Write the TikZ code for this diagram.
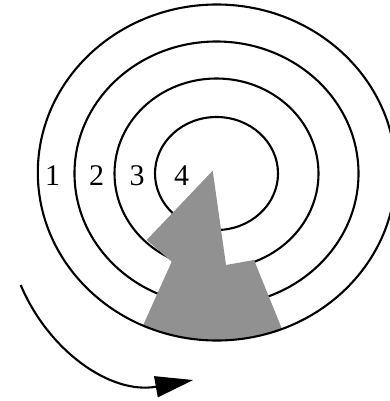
\documentclass[tikz,border=0pt]{standalone}
\usepackage{fontspec}
\setmainfont{Liberation Serif}
\usetikzlibrary{arrows.meta}
\definecolor{wedgegray}{RGB}{145,145,145}
\begin{document}
\begin{tikzpicture}[x=1pt,y=-1pt,
  ring/.style={draw=black,line width=2.1pt},
  lbl/.style={font=\fontsize{30}{30}\selectfont,inner sep=0pt,anchor=center},
  wedge/.style={fill=wedgegray},
  turn/.style={line width=2.1pt,-{Triangle[length=38pt,width=21pt]}}]
\useasboundingbox (0,0) rectangle (390,401);
\coordinate (O) at (216.5,173.5);
\coordinate (O4) at (216.8,172.5);
% inner rings
\draw[ring] (O) ellipse [x radius=61.5pt, y radius=56.5pt];
\draw[ring] (O) ellipse [x radius=102pt, y radius=95pt];
\draw[ring] (O) ellipse [x radius=142pt, y radius=132pt];
% gray wedge
\begin{scope}
  \clip (O4) ellipse [x radius=179pt, y radius=168pt];
  \fill[wedge] (212.7,170.7) -- (226,265) -- (254,260) -- (291.4,352.2)
     -- (134.3,344.9) -- (171.7,261.7) -- (146.7,240) -- cycle;
\end{scope}
% outer ring
\draw[ring] (O4) ellipse [x radius=179pt, y radius=168pt];
% labels
\node[lbl] (l1) at (52.5,176) {1};
\node[lbl] (l2) at (96.7,176) {2};
\node[lbl] (l3) at (137,176) {3};
\node[lbl] (l4) at (181.7,176) {4};
% rotation arrow
\coordinate (as) at (20.7,285);
\coordinate (ae) at (193.3,380);
\draw[turn] (as) .. controls (48,350) and (110,395) .. (ae);
\end{tikzpicture}
\end{document}
